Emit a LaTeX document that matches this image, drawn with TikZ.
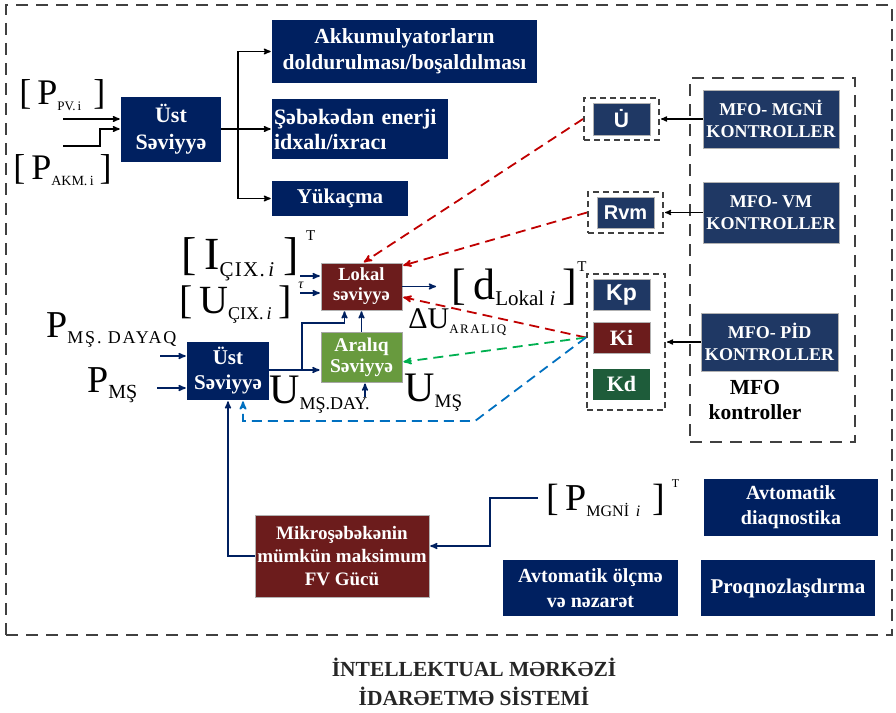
\documentclass[tikz,border=0pt]{standalone}
\usepackage{fontspec}
\setmainfont{Liberation Serif}
\newfontfamily\arial{Liberation Sans}
\usetikzlibrary{arrows,positioning}

\definecolor{navy}{RGB}{0,32,96}
\definecolor{kblue}{RGB}{31,56,100}
\definecolor{kred}{RGB}{108,28,28}
\definecolor{kgreen}{RGB}{104,154,62}
\definecolor{dgreen}{RGB}{30,92,58}
\definecolor{rline}{RGB}{192,0,0}
\definecolor{gline}{RGB}{0,176,80}
\definecolor{bline}{RGB}{0,112,192}
\definecolor{framegray}{RGB}{64,64,64}

\newcommand{\fs}[2]{\fontsize{#1}{#2}\selectfont}
\newcommand{\lowidx}[2]{\raisebox{-0.15em}{\fs{#1}{#1}#2}}
\newcommand{\upidx}[2]{\raisebox{0.62em}{\fs{#1}{#1}#2}}

\begin{document}
\begin{tikzpicture}[->,>=stealth',shorten >=1pt,semithick,x=1pt,y=-1pt]
   \tikzstyle{navybox}=[fill=navy,text=white,font=\bfseries\fs{20}{25},align=center,inner sep=2pt]
   \tikzstyle{kbox}=[fill=kblue,text=white,font=\bfseries\fs{18}{22},align=center,inner sep=1pt,draw=white!70!black,line width=0.5pt]
   \tikzstyle{redbox}=[fill=kred,text=white,font=\bfseries\fs{19}{23},align=center,inner sep=1pt,draw=white!70!black,line width=0.5pt]
   \tikzstyle{greenbox}=[fill=kgreen,text=white,font=\bfseries\fs{19.5}{21},align=center,inner sep=1pt,draw=white!65!black,line width=0.8pt]
   \tikzstyle{dgbox}=[fill=dgreen,text=white,font=\bfseries\fs{22}{22},align=center,inner sep=1pt]
   \tikzstyle{dashframe}=[draw=framegray,line width=2.2pt,dash pattern=on 12pt off 8pt]
   \tikzstyle{smallframe}=[draw=framegray,line width=2pt,dash pattern=on 6pt off 4pt]
   \tikzstyle{sig}=[inner sep=0pt,anchor=west,text=black]
   \tikzstyle{blackarrow}=[draw=black,line width=1.4pt]
   \tikzstyle{navyarrow}=[draw=navy,line width=1.5pt]
   \tikzstyle{reddash}=[draw=rline,line width=1.8pt,dash pattern=on 10pt off 6pt]
   \tikzstyle{greendash}=[draw=gline,line width=1.8pt,dash pattern=on 10pt off 6pt]
   \tikzstyle{bluedash}=[draw=bline,line width=1.8pt,dash pattern=on 10pt off 6pt]

   \useasboundingbox (0,0) rectangle (896,712);

   \node[dashframe,minimum width=886,minimum height=630] (outer) at (449,320) {};

   % upper level, top left
   \node[navybox,minimum width=100,minimum height=65,font=\bfseries\fs{22}{27}] (ust1) at (171,129.5) {Üst\\Səviyyə};
   \node[navybox,minimum width=265,minimum height=63,font=\bfseries\fs{21.5}{26}] (akk) at (404.5,51.5) {Akkumulyatorların\\doldurulması/boşaldılması};
   \node[navybox,minimum width=176,minimum height=60,text width=172,align=left,font=\bfseries\fs{22}{25}] (seb) at (360,129) {Şəbəkədən enerji\\idxalı/ixracı};
   \node[navybox,minimum width=136,minimum height=35,font=\bfseries\fs{21}{25}] (yuk) at (340,198.5) {Yükaçma};

   \node[sig] (ppv) at (19,95) {\fs{36}{36}[\,P\lowidx{13}{PV.\,i}\,\,]};
   \node[sig] (pakm) at (13,170) {\fs{36}{36}[\,P\lowidx{14}{AKM.\,i}\,]};

   \coordinate (j1) at (238,129);
   \coordinate (pv0) at (63,119);
   \coordinate (ak0) at (63,146);
   \draw[blackarrow] (pv0) -- (ust1.west |- pv0);
   \draw[blackarrow] (ak0) -- ++(37,0) |- (ust1.west |- j1);
   \draw[blackarrow,-] (ust1.east |- j1) -- (j1);
   \draw[blackarrow] (j1) |- (akk.west);
   \draw[blackarrow] (j1) -- (seb.west |- j1);
   \draw[blackarrow] (j1) |- (yuk.west);

   % local / intermediate level
   \node[redbox,minimum width=81,minimum height=47,font=\bfseries\fs{18.5}{20}] (lokal) at (361.5,286.5) {Lokal\\səviyyə};
   \node[greenbox,minimum width=81,minimum height=50] (aral) at (361.5,357) {Aralıq\\Səviyyə};
   \node[navybox,minimum width=82,minimum height=58,font=\bfseries\fs{21}{25}] (ust2) at (228,371) {Üst\\Səviyyə};

   \node[sig] (ich) at (181,256) {\fs{46}{46}[\,I\lowidx{21}{\addfontfeatures{LetterSpace=6}ÇIX.\,\textit{i}}\,]\,\upidx{15}{T}};
   \node[sig] (uch) at (179,303) {\fs{40}{40}[\,U\lowidx{18}{ÇIX.\,\textit{i}}\,]\,\upidx{14}{\textit{τ}}};
   \node[sig] (dlok) at (451,284) {\fs{44}{44}[\,d\lowidx{21}{Lokal \textit{i}}\,]\upidx{15}{T}};
   \node[sig] (du) at (408,322) {\fs{30}{30}ΔU\lowidx{13}{\addfontfeatures{LetterSpace=12}ARALIQ}};
   \node[sig] (pmsd) at (46,330) {\fs{38}{38}P\lowidx{18}{\addfontfeatures{LetterSpace=10}MŞ. DAYAQ}};
   \node[sig] (pms) at (87,385) {\fs{38}{38}P\lowidx{20}{MŞ}};
   \node[sig] (umsd) at (269,395) {\fs{42}{42}U\lowidx{18}{MŞ.DAY.}};
   \node[sig] (ums) at (404,393) {\fs{42}{42}U\lowidx{19}{MŞ}};

   \coordinate (ich0) at (300,276);
   \coordinate (uch0) at (300,293);
   \coordinate (dl0) at (437,286.5);
   \coordinate (m1) at (302,370);
   \coordinate (ums0) at (365,397);
   \coordinate (pmsd0) at (160,356);
   \coordinate (pms0) at (157,388);
   \draw[navyarrow] (ich0) -- (lokal.west |- ich0);
   \draw[navyarrow] (uch0) -- (lokal.west |- uch0);
   \draw[navyarrow] (lokal) -- (dl0);
   \draw[navyarrow] (ust2.east |- m1) -- (aral.west |- m1);
   \draw[navyarrow] (m1) -- ++(0,-47) -| ([xshift=-17pt]lokal.south);
   \draw[navyarrow] (aral) -- (lokal);
   \draw[navyarrow] (ums0) -- (aral.south -| ums0);
   \draw[navyarrow] (pmsd0) -- (ust2.west |- pmsd0);
   \draw[navyarrow] (pms0) -- (ust2.west |- pms0);

   % MFO controllers
   \node[dashframe,minimum width=165,minimum height=364] (mfo) at (772.5,260) {};
   \node[kbox,minimum width=136,minimum height=58] (mgni) at (771,119) {MFO- MGNİ\\KONTROLLER};
   \node[kbox,minimum width=136,minimum height=61] (vm) at (771,212.5) {MFO- VM\\KONTROLLER};
   \node[kbox,minimum width=137,minimum height=58] (pid) at (769.5,342) {MFO- PİD\\KONTROLLER};
   \node[text=black,font=\bfseries\fs{21.5}{25},align=center] (mfotxt) at (755,400) {MFO\\kontroller};

   \node[smallframe,minimum width=75,minimum height=42] (uf) at (621.5,119) {};
   \node[kbox,minimum width=57,minimum height=32,font=\arial\bfseries\fs{21}{21}] (u) at (uf) {\.{U}};
   \node[smallframe,minimum width=75,minimum height=41] (rf) at (625.5,212.5) {};
   \node[kbox,minimum width=57,minimum height=31,font=\arial\bfseries\fs{20}{20}] (rvm) at (rf) {Rvm};
   \node[smallframe,minimum width=78,minimum height=136] (kf) at (626,342) {};
   \node[kbox,minimum width=57,minimum height=31,font=\arial\bfseries\fs{23}{23}] (kp) at (621.5,294.5) {Kp};
   \node[redbox,minimum width=57,minimum height=31,font=\bfseries\fs{22}{22}] (ki) at (621.5,337.5) {Ki};
   \node[dgbox,minimum width=57,minimum height=31] (kd) at (621.5,384) {Kd};

   \draw[blackarrow,line width=1.2pt] (mgni.west) -- (uf.east);
   \draw[blackarrow,line width=1.2pt] (vm.west) -- (rf.east);
   \draw[blackarrow,line width=1.2pt] (pid.west) -- (kf.east);

   \draw[reddash] (uf.west) -- ([xshift=1.5pt]lokal.north);
   \draw[reddash] (rf.west) -- ([yshift=-3pt]lokal.north east);
   \draw[reddash] (kf.west |- ki.west) -- ([yshift=-10.5pt]lokal.east);
   \draw[greendash] (kf.west |- ki.west) -- ([yshift=-5pt]aral.east);
   \draw[bluedash] (kf.west |- ki.west) -- (475,421) -| ([xshift=15pt]ust2.south);

   % bottom part
   \node[redbox,minimum width=174,minimum height=82] (mikro) at (342,556) {Mikroşəbəkənin\\mümkün maksimum\\FV Gücü};
   \node[sig] (pmgni) at (546,498) {\fs{38}{38}[\,P\lowidx{16}{MGNİ \,\textit{i}}\,\,]\,\upidx{12}{T}};
   \coordinate (mg0) at (538,498);
   \draw[navyarrow] (mikro.west) -| (ust2.south);
   \draw[navyarrow] (mg0) -- ++(-48,0) |- ([yshift=10pt]mikro.east);

   \node[navybox,minimum width=175,minimum height=56] (olcme) at (590.5,588) {Avtomatik ölçmə\\və nəzarət};
   \node[navybox,minimum width=174,minimum height=57] (diaq) at (791,507.5) {Avtomatik\\diaqnostika};
   \node[navybox,minimum width=174,minimum height=56,font=\bfseries\fs{21}{25}] (proq) at (788,588) {Proqnozlaşdırma};

   \node[text=black!85,font=\bfseries\fs{21.5}{29},align=center] (title) at (474,682) {İNTELLEKTUAL MƏRKƏZİ\\İDARƏETMƏ SİSTEMİ};
\end{tikzpicture}
\end{document}
